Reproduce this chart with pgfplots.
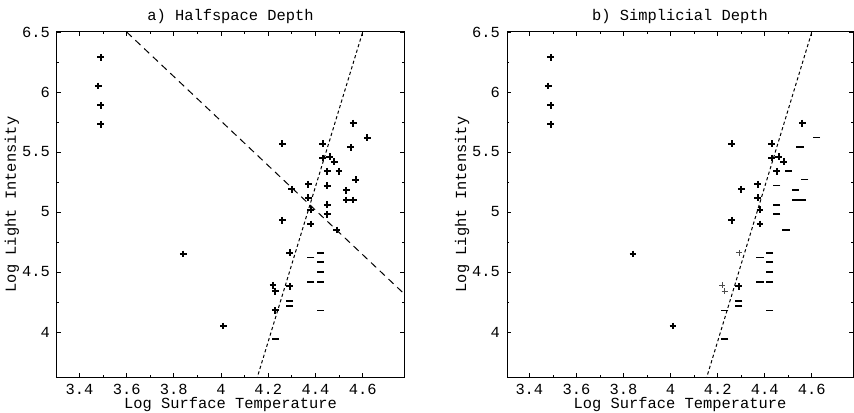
\documentclass[border=0pt]{standalone}
\usepackage{fontspec}
\setmainfont{Liberation Mono}
\usepackage{pgfplots}
\pgfplotsset{compat=1.18}

\newcommand{\fs}{\fontsize{7.7}{9}\selectfont}

\pgfplotsset{
  hr/.style={
    scale only axis,
    width=173.5pt, height=172.5pt,
    xmin=3.305, xmax=4.775,
    ymin=3.625, ymax=6.5,
    xtick={3.4,3.6,3.8,4,4.2,4.4,4.6},
    ytick={4,4.5,5,5.5,6,6.5},
    minor tick num=1,
    major tick length=2pt,
    minor tick length=1.2pt,
    axis line style={line width=0.5pt},
    tick style={black, line width=0.4pt},
    /pgf/number format/assume math mode=true,
    tick label style={font=\fs},
    label style={font=\fs},
    every axis title shift=0pt,
    title style={font=\fs, at={(axis description cs:0.5,1.0435)}, anchor=center},
    xlabel={Log Surface Temperature},
    ylabel={Log Light Intensity},
    xlabel style={at={(axis description cs:0.5,-0.081)}, anchor=center},
    ylabel style={at={(axis description cs:-0.13,0.5)}, anchor=center},
    clip=true,
  },
  plus/.style={only marks, mark=+, mark size=1.7pt, black, line width=1pt},
  thinplus/.style={only marks, mark=+, mark size=1.5pt, black!70, line width=0.35pt},
  minus/.style={only marks, mark=-, mark size=1.8pt, black, line width=0.9pt},
  steep/.style={black, line width=0.5pt, dash pattern=on 1.6pt off 1.3pt, no marks},
  halfline/.style={black, line width=0.5pt, dash pattern=on 3.5pt off 2.5pt, no marks},
}

\begin{document}
\begin{tikzpicture}
\path[use as bounding box] (-28.5pt,-17.5pt) rectangle (398.5pt,188.5pt);

% a) halfspace depth
\begin{axis}[hr, title={a) Halfspace Depth}]
\addplot[plus] coordinates {
  (4.37,5.23) (4.56,5.74) (4.26,4.93) (4.56,5.74) (4.30,5.19) (4.46,5.46)
  (3.84,4.65) (4.57,5.27) (4.26,5.57) (4.37,5.12) (3.49,5.73) (4.43,5.45)
  (4.48,5.42) (4.01,4.05) (4.23,4.18) (3.49,5.89) (4.29,4.38) (4.49,4.85)
  (4.38,5.02) (4.29,4.66) (4.38,4.90) (4.22,4.39) (3.48,6.05) (4.56,5.10)
  (4.45,5.22) (3.49,6.29) (4.23,4.34) (4.62,5.62) (4.53,5.10) (4.45,5.22)
  (4.53,5.18) (4.43,5.57) (4.45,5.06) (4.50,5.34) (4.45,5.34) (4.55,5.54)
  (4.45,4.98)
};
\addplot[minus] coordinates {
  (4.29,4.26) (4.42,4.58) (4.23,3.94) (4.42,4.18) (4.29,4.22)
  (4.42,4.42) (4.42,4.66) (4.38,4.42) (4.38,4.62) (4.42,4.50)
};
\addplot[steep] coordinates {(4.15,3.6) (4.60,6.5)};
\addplot[halfline] coordinates {(3.60,6.5) (4.78,4.31)};
\end{axis}

% b) simplicial depth
\begin{axis}[hr, at={(225pt,0)}, width=173pt, title={b) Simplicial Depth}]
\addplot[plus] coordinates {
  (4.37,5.23) (4.56,5.74) (4.26,4.93) (4.56,5.74) (4.30,5.19) (4.46,5.46)
  (3.84,4.65) (4.26,5.57) (4.37,5.12) (3.49,5.73) (4.43,5.45) (4.48,5.42)
  (4.01,4.05) (3.49,5.89) (4.29,4.38) (4.38,5.02) (4.38,4.90) (3.48,6.05)
  (3.49,6.29) (4.43,5.57) (4.45,5.34)
};
\addplot[thinplus] coordinates {(4.29,4.66) (4.22,4.39) (4.23,4.34)};
\addplot[minus] coordinates {
  (4.57,5.27) (4.29,4.26) (4.42,4.58) (4.23,3.94) (4.42,4.18) (4.23,4.18)
  (4.29,4.22) (4.42,4.42) (4.49,4.85) (4.42,4.66) (4.38,4.42) (4.56,5.10)
  (4.45,5.22) (4.62,5.62) (4.53,5.10) (4.45,5.22) (4.53,5.18) (4.38,4.62)
  (4.45,5.06) (4.50,5.34) (4.55,5.54) (4.45,4.98) (4.42,4.50)
};
\addplot[steep] coordinates {(4.15,3.6) (4.60,6.5)};
\end{axis}
\end{tikzpicture}
\end{document}
